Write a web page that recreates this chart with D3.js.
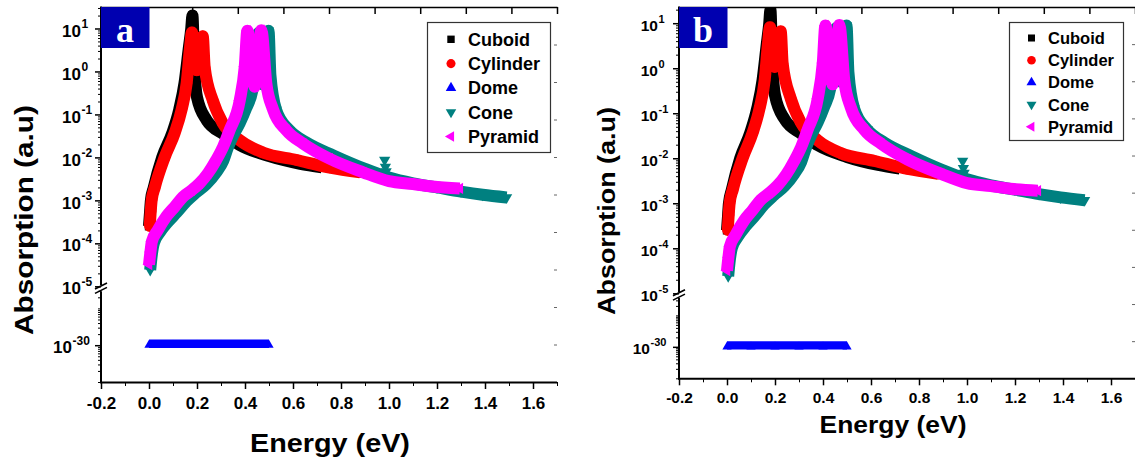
<!DOCTYPE html>
<html>
<head>
<meta charset="utf-8">
<script src="https://cdn.jsdelivr.net/npm/d3@7/dist/d3.min.js"></script>
<style>
  body { margin: 0; background: #fff; }
  svg { display: block; font-family: "Liberation Sans", Arial, sans-serif; font-weight: bold; }
</style>
</head>
<body>
<svg id="chart" width="1135" height="464"></svg>
<script>
// ---- data (energy in eV, absorption in a.u.) ----
const cuboidE = [0.0, 0.004, 0.008, 0.02, 0.055, 0.097, 0.126, 0.148, 0.165, 0.176, 0.181, 0.186, 0.19, 0.2, 0.24, 0.31, 0.378, 0.5, 0.63, 0.72];
const cuboidA = [2.5e-4, 5e-4, 1e-3, 2e-3, 1e-2, 3.7e-2, 0.13, 0.54, 3.2, 10, 20, 4.0, 1.0, 0.25, 0.074, 0.035, 0.0195, 0.0107, 0.0071, 0.0059];

const cylinderE = [0.003, 0.007, 0.011, 0.024, 0.065, 0.107, 0.136, 0.157, 0.17, 0.179, 0.19, 0.199, 0.21, 0.224, 0.232, 0.266, 0.307, 0.378, 0.474, 0.615, 0.753, 0.88];
const cylinderA = [2.5e-4, 5.4e-4, 1.0e-3, 2.0e-3, 1.0e-2, 3.7e-2, 0.13, 0.54, 3.2, 8.1, 2.5, 1.07, 2.5, 6.6, 1.26, 0.21, 0.063, 0.025, 0.013, 0.0087, 0.0058, 0.0045];

const domeE = [0.0, 0.1, 0.2, 0.3, 0.4, 0.5];
const domeA = [1e-30, 1e-30, 1e-30, 1e-30, 1e-30, 1e-30];

const coneE = [0.005, 0.012, 0.02, 0.045, 0.08, 0.115, 0.156, 0.195, 0.239, 0.28, 0.309, 0.328, 0.35, 0.378, 0.405, 0.43, 0.447, 0.457, 0.475, 0.49, 0.498, 0.506, 0.53, 0.585, 0.655, 0.77, 0.9, 1.0, 1.1, 1.2, 1.3, 1.39, 1.49];
const coneA = [2.4e-5, 5.6e-5, 1.0e-4, 1.8e-4, 3.2e-4, 5.2e-4, 9.5e-4, 1.5e-3, 2.4e-3, 4.5e-3, 8.3e-3, 0.0166, 0.032, 0.063, 0.14, 0.35, 1.6, 7.9, 0.5, 2.0, 8.9, 0.8, 0.126, 0.043, 0.0224, 0.011, 0.0054, 0.0034, 0.0025, 0.002, 0.0016, 0.00135, 0.00117];
const coneExtraE = [0.982, 0.985, 0.988];
const coneExtraA = [0.0087, 0.006, 0.0047];

const pyramidE = [0.0, 0.006, 0.012, 0.036, 0.072, 0.107, 0.141, 0.177, 0.211, 0.246, 0.28, 0.309, 0.336, 0.378, 0.399, 0.41, 0.425, 0.44, 0.455, 0.468, 0.489, 0.517, 0.572, 0.642, 0.753, 0.892, 1.0, 1.1, 1.18, 1.295];
const pyramidA = [3.2e-5, 6.3e-5, 1.1e-4, 2.0e-4, 4.2e-4, 7.1e-4, 1.2e-3, 1.7e-3, 2.5e-3, 4.3e-3, 8.7e-3, 0.0178, 0.043, 0.21, 1.3, 8.9, 2.0, 0.44, 2.0, 9.1, 0.52, 0.13, 0.043, 0.021, 0.0093, 0.0045, 0.0028, 0.0024, 0.0021, 0.0019];

const energyTicks = [-0.2, 0.0, 0.2, 0.4, 0.6, 0.8, 1.0, 1.2, 1.4, 1.6];
const energyMinor = [-0.1, 0.1, 0.3, 0.5, 0.7, 0.9, 1.1, 1.3, 1.5, 1.7];
const upperDecades = [-5, -4, -3, -2, -1, 0, 1];
const lowerDecades = [-30];

const series = [
  { name: "Cuboid",   color: "#000000", sym: d3.symbolSquare,   rot: 0,   E: cuboidE,   A: cuboidA },
  { name: "Cylinder", color: "#ff0000", sym: d3.symbolCircle,   rot: 0,   E: cylinderE, A: cylinderA },
  { name: "Dome",     color: "#0000ff", sym: d3.symbolTriangle, rot: 0,   E: domeE,     A: domeA },
  { name: "Cone",     color: "#008080", sym: d3.symbolTriangle, rot: 180, E: coneE,     A: coneA },
  { name: "Pyramid",  color: "#ff00ff", sym: d3.symbolTriangle, rot: -90, E: pyramidE,  A: pyramidA }
];

const panels = [
  { tag: "a", x0: 101, x1: 557, y0: 7, yUp: 286.3, topExp: 1.5, yLowTop: 290, y1: 382, lowTopExp: -28.5,
    tickFs: 17, supFs: 12, baseGap: 20, lowGap: 29, xTickY: 409,
    titleFs: 26, xTitleX: 330, xTitleY: 452, xTitleLen: 160, yTitleX: 32.5, yTitleY: 220, yTitleLen: 230,
    leg: { x: 427, y: 22, w: 123, h: 130, first: 39.3, step: 24.3, mx: 451, tx: 468, fs: 18, ms: 1 } },
  { tag: "b", x0: 679, x1: 1135, y0: 7, yUp: 293.3, topExp: 1.36, yLowTop: 296.5, y1: 378.3, lowTopExp: -28.4,
    tickFs: 15.5, supFs: 11, baseGap: 21, lowGap: 29, xTickY: 403.5,
    titleFs: 24, xTitleX: 893, xTitleY: 433, xTitleLen: 147, yTitleX: 615, yTitleY: 211, yTitleLen: 208,
    leg: { x: 1009, y: 22, w: 114, h: 118, first: 38, step: 22.2, mx: 1031.5, tx: 1048, fs: 16.5, ms: 0.9 } }
];

const svg = d3.select("#chart");

// stretch a text element along its writing direction to a target length
function fitText(sel, len, tx, ty, angle) {
  const natural = sel.node().getComputedTextLength();
  sel.attr("transform", `translate(${tx},${ty}) rotate(${angle}) scale(${len / natural},1)`);
}

function drawPanel(p, idx) {
  const g = svg.append("g");

  // scales
  const x = d3.scaleLinear().domain([-0.2, 1.7]).range([p.x0, p.x1]);
  const yUp = d3.scaleLog().domain([1e-5, Math.pow(10, p.topExp)]).range([p.yUp, p.y0]);
  const yLow = d3.scaleLog().domain([1e-31, Math.pow(10, p.lowTopExp)]).range([p.y1, p.yLowTop]);
  const y = v => (v >= 1e-6 ? yUp(v) : yLow(v));

  // data
  const clipId = "clip" + idx;
  g.append("clipPath").attr("id", clipId)
    .append("rect").attr("x", p.x0).attr("y", p.y0).attr("width", p.x1 - p.x0).attr("height", p.y1 - p.y0);
  const plot = g.append("g").attr("clip-path", `url(#${clipId})`);

  const line = d3.line().x(d => x(d[0])).y(d => y(d[1])).curve(d3.curveMonotoneX);

  series.forEach(s => {
    const pts = s.E.map((e, i) => [e, s.A[i]]);
    const isDome = s.name === "Dome";
    plot.append("path")
      .attr("d", line(pts))
      .attr("fill", "none")
      .attr("stroke", s.color)
      .attr("stroke-width", isDome ? 8.4 : 12)
      .attr("stroke-linejoin", "round")
      .attr("stroke-linecap", "butt")
      .attr("transform", isDome ? "translate(0,-1.5)" : null);
    let mk = pts;
    if (s.name === "Cone") mk = pts.concat(coneExtraE.map((e, i) => [e, coneExtraA[i]]));
    let size = 55;
    if (s.sym === d3.symbolSquare) size = 70;
    if (s.sym === d3.symbolCircle) size = 100;
    if (isDome) size = 37;
    plot.selectAll(null).data(mk).enter().append("path")
      .attr("d", d3.symbol().type(s.sym).size(size))
      .attr("fill", s.color)
      .attr("transform", d => `translate(${x(d[0])},${y(d[1])}) rotate(${s.rot})`);
  });

  // bottom axis
  g.append("g").attr("transform", `translate(0,${p.y1})`)
    .call(d3.axisBottom(x).tickValues(energyMinor).tickSize(4).tickSizeOuter(0).tickFormat(""))
    .call(a => a.select(".domain").remove());
  const xa = g.append("g").attr("transform", `translate(0,${p.y1})`)
    .call(d3.axisBottom(x).tickValues(energyTicks).tickSize(7).tickSizeOuter(0).tickFormat(d => d.toFixed(1)));
  xa.select(".domain").attr("stroke-width", 2).attr("d", `M${p.x0 - 1},0.5H${p.x1}`);
  xa.selectAll(".tick line").attr("stroke-width", 1.5);
  xa.selectAll(".tick text").attr("y", p.xTickY - p.y1).attr("dy", 0)
    .attr("font-size", p.tickFs).attr("font-family", "Liberation Sans, Arial, sans-serif")
    .attr("font-weight", "bold").attr("fill", "#000");

  // top frame ticks (10 divisions)
  const xt = d3.scaleLinear().domain([0, 10]).range([p.x0, p.x1]);
  const ta = g.append("g").attr("transform", `translate(0,${p.y0})`)
    .call(d3.axisTop(xt).ticks(10).tickSize(-7).tickSizeOuter(0).tickFormat(""));
  ta.select(".domain").attr("stroke-width", 1.5);
  ta.selectAll(".tick line").attr("stroke-width", 1.5);

  // right frame ticks (10 divisions), faint, no spine
  const yr = d3.scaleLinear().domain([0, 10]).range([p.y1, p.y0]);
  const ra = g.append("g").attr("transform", `translate(${p.x1},0)`)
    .call(d3.axisRight(yr).tickValues(d3.range(1, 10)).tickSize(-3).tickFormat(""));
  ra.select(".domain").remove();
  ra.selectAll(".tick line").attr("stroke", "#666");

  // left axis: upper segment
  const upMinor = [];
  for (let e = -5; e <= 1; e++) for (let k = 2; k <= 9; k++) {
    const v = k * Math.pow(10, e);
    if (v <= Math.pow(10, p.topExp)) upMinor.push(v);
  }
  const la = g.append("g").attr("transform", `translate(${p.x0},0)`);
  la.append("g").call(d3.axisLeft(yUp).tickValues(upMinor).tickSize(3).tickSizeOuter(0).tickFormat(""))
    .call(a => a.select(".domain").remove());
  la.append("g").call(d3.axisLeft(yUp).tickValues(upperDecades.map(e => Math.pow(10, e))).tickSize(6).tickSizeOuter(0).tickFormat(""))
    .call(a => a.select(".domain").remove())
    .call(a => a.selectAll(".tick line").attr("stroke-width", 1.5));
  // lower segment
  const lowMinor = [];
  for (let e = -31; e <= -29; e++) for (let k = 1; k <= 9; k++) {
    const v = k * Math.pow(10, e);
    if (v <= Math.pow(10, p.lowTopExp) && !(k === 1 && e === -30)) lowMinor.push(v);
  }
  la.append("g").call(d3.axisLeft(yLow).tickValues(lowMinor).tickSize(3).tickSizeOuter(0).tickFormat(""))
    .call(a => a.select(".domain").remove());
  la.append("g").call(d3.axisLeft(yLow).tickValues(lowerDecades.map(e => Math.pow(10, e))).tickSize(6).tickSizeOuter(0).tickFormat(""))
    .call(a => a.select(".domain").remove())
    .call(a => a.selectAll(".tick line").attr("stroke-width", 1.5));

  // spine pieces with the break
  const bMid = (p.yUp + p.yLowTop) / 2;
  g.append("line").attr("x1", p.x0).attr("x2", p.x0).attr("y1", p.y0 - 0.5).attr("y2", bMid - 3)
    .attr("stroke", "#000").attr("stroke-width", 2);
  g.append("line").attr("x1", p.x0).attr("x2", p.x0).attr("y1", bMid + 3).attr("y2", p.y1 + 1)
    .attr("stroke", "#000").attr("stroke-width", 2);
  [-2.2, 2.2].forEach(dy => {
    g.append("line").attr("x1", p.x0 - 6).attr("x2", p.x0 + 6)
      .attr("y1", bMid + dy + 3).attr("y2", bMid + dy - 3)
      .attr("stroke", "#000").attr("stroke-width", 1.6);
  });

  // y tick labels (10 with superscript)
  const addLabel = (ty, exp, gap) => {
    g.append("text").attr("x", p.x0 - gap).attr("y", ty + 0.48 * p.tickFs)
      .attr("text-anchor", "end").attr("font-size", p.tickFs).text("10");
    g.append("text").attr("x", p.x0 - gap + 0.5).attr("y", ty - 0.5)
      .attr("text-anchor", "start").attr("font-size", p.supFs).text(String(exp));
  };
  upperDecades.forEach(e => addLabel(yUp(Math.pow(10, e)), e, p.baseGap));
  lowerDecades.forEach(e => addLabel(yLow(Math.pow(10, e)), e, p.lowGap));

  // axis titles
  const xTitle = g.append("text").attr("text-anchor", "middle").attr("font-size", p.titleFs).text("Energy (eV)");
  fitText(xTitle, p.xTitleLen, p.xTitleX, p.xTitleY, 0);
  const yTitle = g.append("text").attr("text-anchor", "middle").attr("font-size", p.titleFs).text("Absorption (a.u)");
  fitText(yTitle, p.yTitleLen, p.yTitleX, p.yTitleY, -90);

  // panel tag
  g.append("rect").attr("x", p.x0).attr("y", p.y0).attr("width", 48.5).attr("height", 41).attr("fill", "#0000b0");
  g.append("text").attr("x", p.x0 + 24).attr("y", p.y0 + 35).attr("text-anchor", "middle")
    .attr("font-family", "Liberation Serif, 'Times New Roman', serif").attr("font-size", 36)
    .attr("fill", "#fff").text(p.tag);

  // legend
  const L = p.leg;
  const lg = g.append("g");
  lg.append("rect").attr("x", L.x + 0.5).attr("y", L.y + 0.5).attr("width", L.w).attr("height", L.h)
    .attr("fill", "#fff").attr("stroke", "#333").attr("stroke-width", 1.2);
  series.forEach((s, i) => {
    const cy = L.first + i * L.step;
    const size = s.sym === d3.symbolSquare ? 55 * L.ms : s.sym === d3.symbolCircle ? 65 * L.ms : 48 * L.ms;
    lg.append("path").attr("d", d3.symbol().type(s.sym).size(size))
      .attr("fill", s.color).attr("transform", `translate(${L.mx},${cy}) rotate(${s.rot})`);
    lg.append("text").attr("x", L.tx).attr("y", cy + 0.36 * L.fs).attr("font-size", L.fs).text(s.name);
  });
}

panels.forEach(drawPanel);
</script>
</body>
</html>
